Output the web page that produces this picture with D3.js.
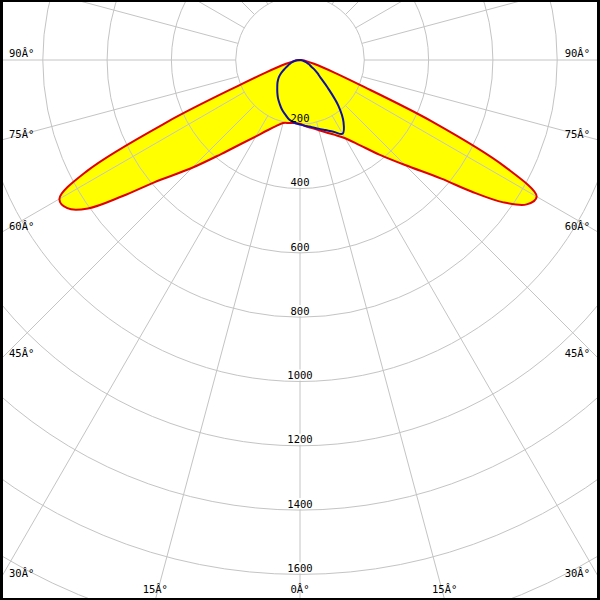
<!DOCTYPE html>
<html><head><meta charset="utf-8">
<script src="https://cdn.jsdelivr.net/npm/d3@7"></script>
<style>body{margin:0;background:#fff}svg{display:block}</style>
</head><body>
<script>
// polar angles (gamma, degrees from nadir)
const gammas = [0,5,10,15,20,25,30,35,40,45,50,52.5,55,57.5,60,62.5,65,67.5,70,75,80,85,90];
// C0 / C180 plane (red, filled)
const c0   = [198,207,215,226,240,257,281,323,384,462,574,672,772,836,850,718,455,200,112,45,20,8,0];
const c180 = [196,197,199,203,219,242,274,318,382,474,592,695,805,858,864,745,455,200,112,45,20,8,0];
// C90 / C270 plane (blue)
const c90  = [201,206,212,221,232,246,265,236,186,122,80,70,60,50,40,35,30,25,20,12,7,3,0];
const c270 = [201,196,189,176,164,150,137,123,110,99,87,80,72,63,54,48,42,37,32,25,17,9,0];
// grid
const ringValues = [200,400,600,800,1000,1200,1400,1600,1800,2000];
const ringLabels = ["200","400","600","800","1000","1200","1400","1600"];
const spokeAngles = d3.range(0,360,15);
const angleTicks = [90,75,60,45,30,15,0];

const W = 600, H = 600, cx = 300, cy = 60;
const r = d3.scaleLinear().domain([0,1600]).range([0,514.4]);

const svg = d3.select("body").append("svg").attr("width",W).attr("height",H);
svg.append("clipPath").attr("id","clip").append("rect").attr("x",3).attr("y",2).attr("width",594).attr("height",596);
const plot = svg.append("g").attr("clip-path","url(#clip)");
const g = plot.append("g").attr("transform",`translate(${cx},${cy})`);

function planePoints(right, left){
  const pts = [];
  for(let i=gammas.length-1;i>=0;i--) pts.push([Math.PI - gammas[i]*Math.PI/180, r(right[i])]);
  for(let i=1;i<gammas.length;i++) pts.push([Math.PI + gammas[i]*Math.PI/180, r(left[i])]);
  return pts;
}
const radial = d3.lineRadial().angle(d=>d[0]).radius(d=>d[1]).curve(d3.curveCatmullRomClosed.alpha(0.5));

const redPts = planePoints(c0, c180);
const bluePts = planePoints(c90, c270);

// fill
g.append("path").attr("d", radial(redPts)).attr("fill","#ffff00").attr("stroke","none");

// grid circles
const gridColor = "#c4c4c4";
g.selectAll("circle.ring").data(ringValues).enter().append("circle")
  .attr("r", d=>r(d)).attr("fill","none").attr("stroke",gridColor).attr("stroke-width",1);

// spokes
const labelYs = ringLabels.map((t,i)=>r(ringValues[i]) - 6);
spokeAngles.forEach(a=>{
  const rad = a*Math.PI/180;
  const dx = -Math.sin(rad), dy = Math.cos(rad);
  const r0 = r(200), r1 = 800;
  if(a===0){
    let start = r0;
    labelYs.forEach(ly=>{
      if(ly-6 > start) g.append("line").attr("x1",0).attr("y1",start).attr("x2",0).attr("y2",ly-6).attr("stroke",gridColor);
      start = ly+5;
    });
    g.append("line").attr("x1",0).attr("y1",start).attr("x2",0).attr("y2",r1).attr("stroke",gridColor);
  } else {
    g.append("line").attr("x1",dx*r0).attr("y1",dy*r0).attr("x2",dx*r1).attr("y2",dy*r1).attr("stroke",gridColor);
  }
});

// outlines
g.append("path").attr("d", radial(redPts)).attr("fill","none").attr("stroke","#e00000").attr("stroke-width",2).attr("stroke-linejoin","round");
g.append("path").attr("d", radial(bluePts)).attr("fill","none").attr("stroke","#1010a0").attr("stroke-width",2).attr("stroke-linejoin","round");

// ring labels
const font = "'DejaVu Sans Mono', monospace";
g.selectAll("text.ring").data(ringLabels).enter().append("text")
  .attr("x",0).attr("y",(d,i)=>labelYs[i]).attr("dy","0.35em")
  .attr("text-anchor","middle").attr("font-family",font).attr("font-size","10.5px").attr("fill","#000")
  .text(d=>d);

// angle labels
angleTicks.forEach(a=>{
  const sides = a===0 ? [1] : [-1,1];
  sides.forEach(s=>{
    const rad = a*Math.PI/180;
    const dx = s*Math.sin(rad), dy = Math.cos(rad);
    const tSide = dx!==0 ? (s<0 ? cx/Math.abs(dx) : (W-cx)/Math.abs(dx)) : Infinity;
    const tBot = dy>0 ? (H-cy)/dy : Infinity;
    let x, y, anchor;
    if(tSide < tBot){
      y = cy + dy*tSide - 6.5;
      x = s<0 ? 9 : 590;
      anchor = s<0 ? "start" : "end";
    } else {
      x = cx + dx*tBot; y = 589; anchor = "middle";
    }
    svg.append("text").attr("x",x).attr("y",y).attr("dy","0.35em").attr("text-anchor",anchor)
      .attr("font-family",font).attr("font-size","10.5px").attr("fill","#000").text(a+"Â°");
  });
});

// frame
svg.append("path").attr("fill-rule","evenodd").attr("fill","#000")
  .attr("d",`M0,0H${W}V${H}H0Z M3,2V598H597V2Z`);
</script>
</body></html>
